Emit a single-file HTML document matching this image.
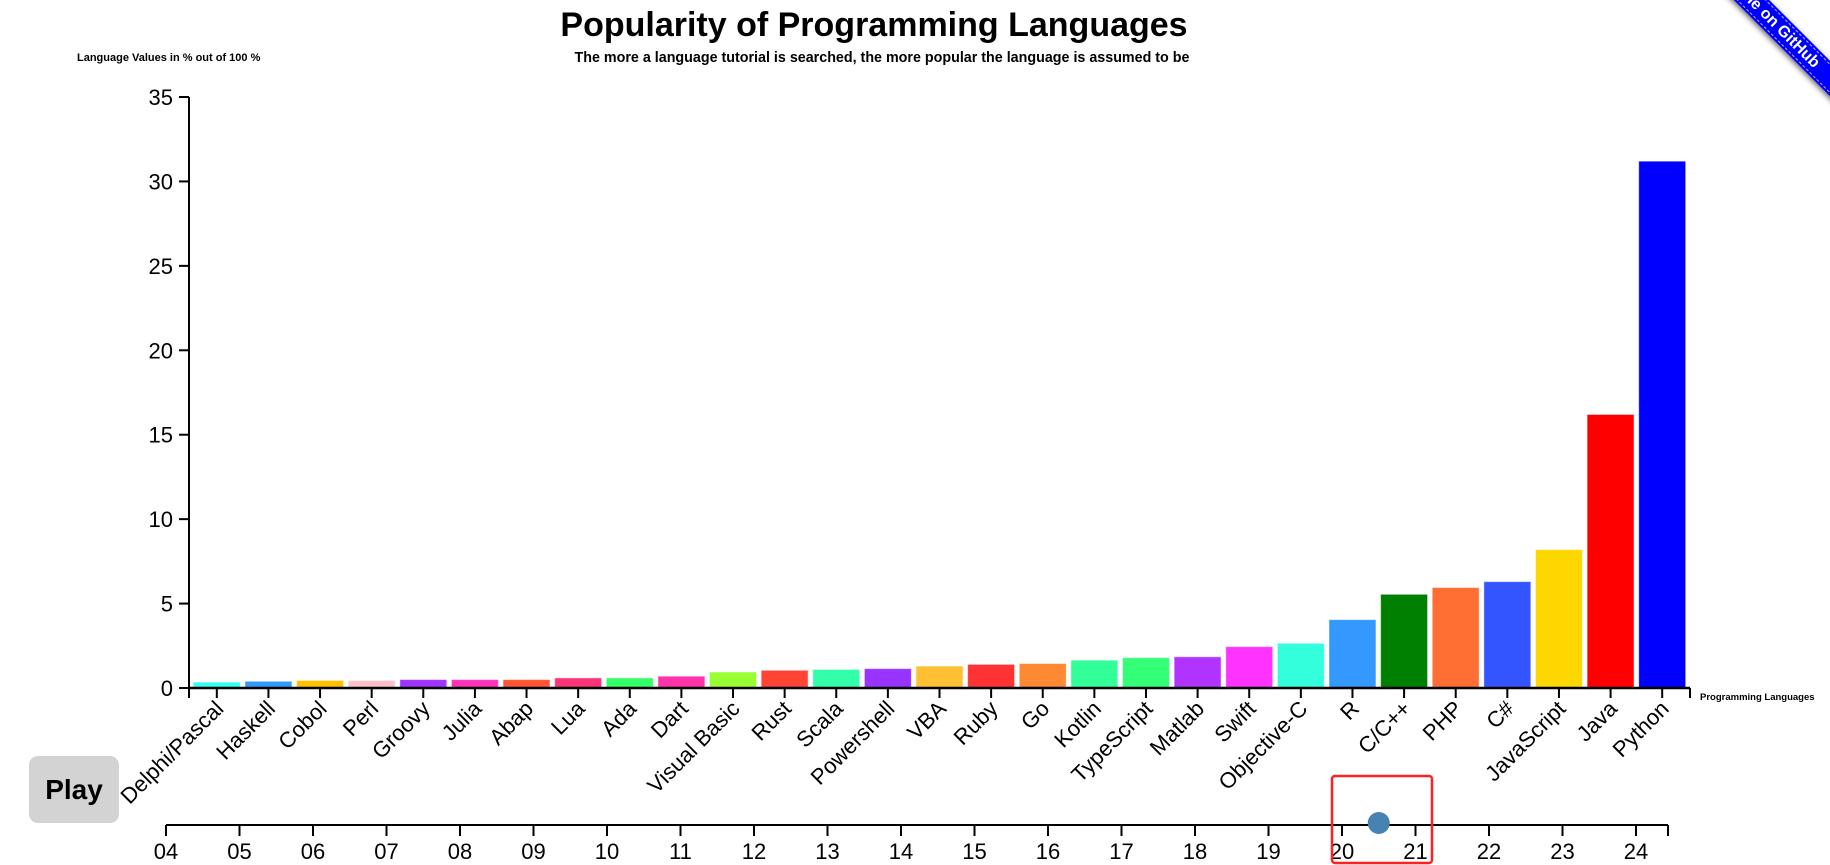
<!DOCTYPE html>
<html><head><meta charset="utf-8">
<style>
html,body{margin:0;padding:0;background:#fff;width:1830px;height:865px;overflow:hidden;font-family:"Liberation Sans",sans-serif;}
#ribbon{position:absolute;left:1670px;top:31px;width:250px;height:25px;background:#00f;color:#fff;font:bold 16px "Liberation Sans",sans-serif;text-align:right;padding-right:0;box-sizing:border-box;line-height:25px;transform:rotate(45deg);box-shadow:0 2px 6px rgba(0,0,0,.6);outline:1px dashed rgba(255,255,255,.7);outline-offset:-3px;}
#ribbon span{position:absolute;right:94px;top:0;}
#play{position:absolute;left:29px;top:756px;width:90px;height:67px;background:#d3d3d3;border-radius:9px;font:bold 28px "Liberation Sans",sans-serif;text-align:center;line-height:67px;color:#000;}
</style></head><body>
<svg id="chart" width="1830" height="865" style="position:absolute;left:0;top:0">
<text x="874" y="36" text-anchor="middle" font-size="34" font-weight="bold">Popularity of Programming Languages</text>
<text x="882" y="62" text-anchor="middle" font-size="14.3" font-weight="bold">The more a language tutorial is searched, the more popular the language is assumed to be</text>
<text x="77" y="61" font-size="11" font-weight="bold">Language Values in % out of 100 %</text>
<text x="1700" y="700" font-size="9.5" font-weight="bold">Programming Languages</text>
<g id="yaxis"></g>
<g id="bars"></g>
<g id="xaxis"></g>
<g id="slider"></g>
</svg>
<div id="play">Play</div>
<div id="ribbon"><span>Fork me on GitHub</span></div>
<script>
const categories=["Delphi/Pascal","Haskell","Cobol","Perl","Groovy","Julia","Abap","Lua","Ada","Dart","Visual Basic","Rust","Scala","Powershell","VBA","Ruby","Go","Kotlin","TypeScript","Matlab","Swift","Objective-C","R","C/C++","PHP","C#","JavaScript","Java","Python"];
const values=[0.35,0.4,0.45,0.45,0.5,0.5,0.5,0.6,0.6,0.7,0.95,1.05,1.1,1.15,1.3,1.4,1.45,1.65,1.8,1.85,2.45,2.65,4.05,5.55,5.95,6.3,8.2,16.2,31.2];
const colors=["#33fff0","#3399ff","#ffc000","#ffc0cb","#a033ff","#ff33bb","#ff5533","#ff3377","#33ff66","#ff33aa","#99ff33","#ff4433","#33ffaa","#9933ff","#ffc033","#ff3333","#ff8833","#33ff99","#33ff77","#b033ff","#ff33ff","#33ffdd","#3399ff","#008000","#ff6f33","#3355ff","#ffd700","#ff0000","#0000ff"];
const yTicks=[0,5,10,15,20,25,30,35];
const years=["04","05","06","07","08","09","10","11","12","13","14","15","16","17","18","19","20","21","22","23","24"];
const currentYear=20.5;

const NS="http://www.w3.org/2000/svg";
function mk(tag,attrs,parent){const e=document.createElementNS(NS,tag);for(const k in attrs)e.setAttribute(k,attrs[k]);parent.appendChild(e);return e;}
const X0=189,X1=1690,BL=191,BR=1688,Y0=688,Y1=97,YMAX=35;
const y=v=>Y0-(v/YMAX)*(Y0-Y1);
const step=(BR-BL)/categories.length;
const bx=i=>BL+i*step;
const bw=step*0.91;
const yg=document.getElementById('yaxis'),bg=document.getElementById('bars'),xg=document.getElementById('xaxis'),sg=document.getElementById('slider');
let l=mk('line',{x1:X0,x2:X0,y1:Y1,y2:Y0,stroke:'#000','stroke-width':2},yg);

yTicks.forEach(t=>{
  const tk=mk('line',{x1:X0-10,x2:X0,y1:y(t),y2:y(t),stroke:'#000','stroke-width':2},yg);
  
  const tx=mk('text',{x:X0-16,y:y(t)+8,'text-anchor':'end','font-size':22},yg);tx.textContent=t;
  
});
values.forEach((v,i)=>{
  const r=mk('rect',{x:bx(i)+(step-bw)/2,y:y(v),width:bw,height:Y0-y(v),fill:colors[i],stroke:'rgba(255,255,255,0.5)','stroke-width':1},bg);
  
  
});
l=mk('line',{x1:X0,x2:X1,y1:Y0,y2:Y0,stroke:'#000','stroke-width':2.5},xg);

mk('line',{x1:X0,x2:X0,y1:Y0,y2:Y0+10,stroke:'#000','stroke-width':2},xg);
mk('line',{x1:X1,x2:X1,y1:Y0,y2:Y0+10,stroke:'#000','stroke-width':2},xg);
categories.forEach((c,i)=>{
  const cx=bx(i)+step/2;
  const tk=mk('line',{x1:cx,x2:cx,y1:Y0,y2:Y0+10,stroke:'#000','stroke-width':2},xg);
  
  const tx=mk('text',{x:cx+8,y:Y0+22,'text-anchor':'end','font-size':22,transform:`rotate(-45 ${cx+8} ${Y0+22})`},xg);tx.textContent=c;
  
});
// slider
const SX0=166,SSTEP=73.5,SY=825,SEND=1668;
const sx=k=>SX0+k*SSTEP;
l=mk('line',{x1:SX0,x2:SEND,y1:SY,y2:SY,stroke:'#000','stroke-width':2},sg);

mk('line',{x1:SEND,x2:SEND,y1:SY,y2:SY+11,stroke:'#000','stroke-width':2},sg);
years.forEach((yr,k)=>{
  const tk=mk('line',{x1:sx(k),x2:sx(k),y1:SY,y2:SY+11,stroke:'#000','stroke-width':2},sg);
  
  const tx=mk('text',{x:sx(k),y:SY+34,'text-anchor':'middle','font-size':22},sg);tx.textContent=yr;
  
});
const hx=sx(years.indexOf("20"))+(currentYear-20)*SSTEP;
const hr=mk('rect',{x:1332,y:776,width:100,height:87,rx:3,fill:'none',stroke:'#ff2020','stroke-width':2.5},sg);

const h=mk('circle',{cx:hx,cy:SY-2,r:11,fill:'#4682b4'},sg);

</script>
</body></html>
